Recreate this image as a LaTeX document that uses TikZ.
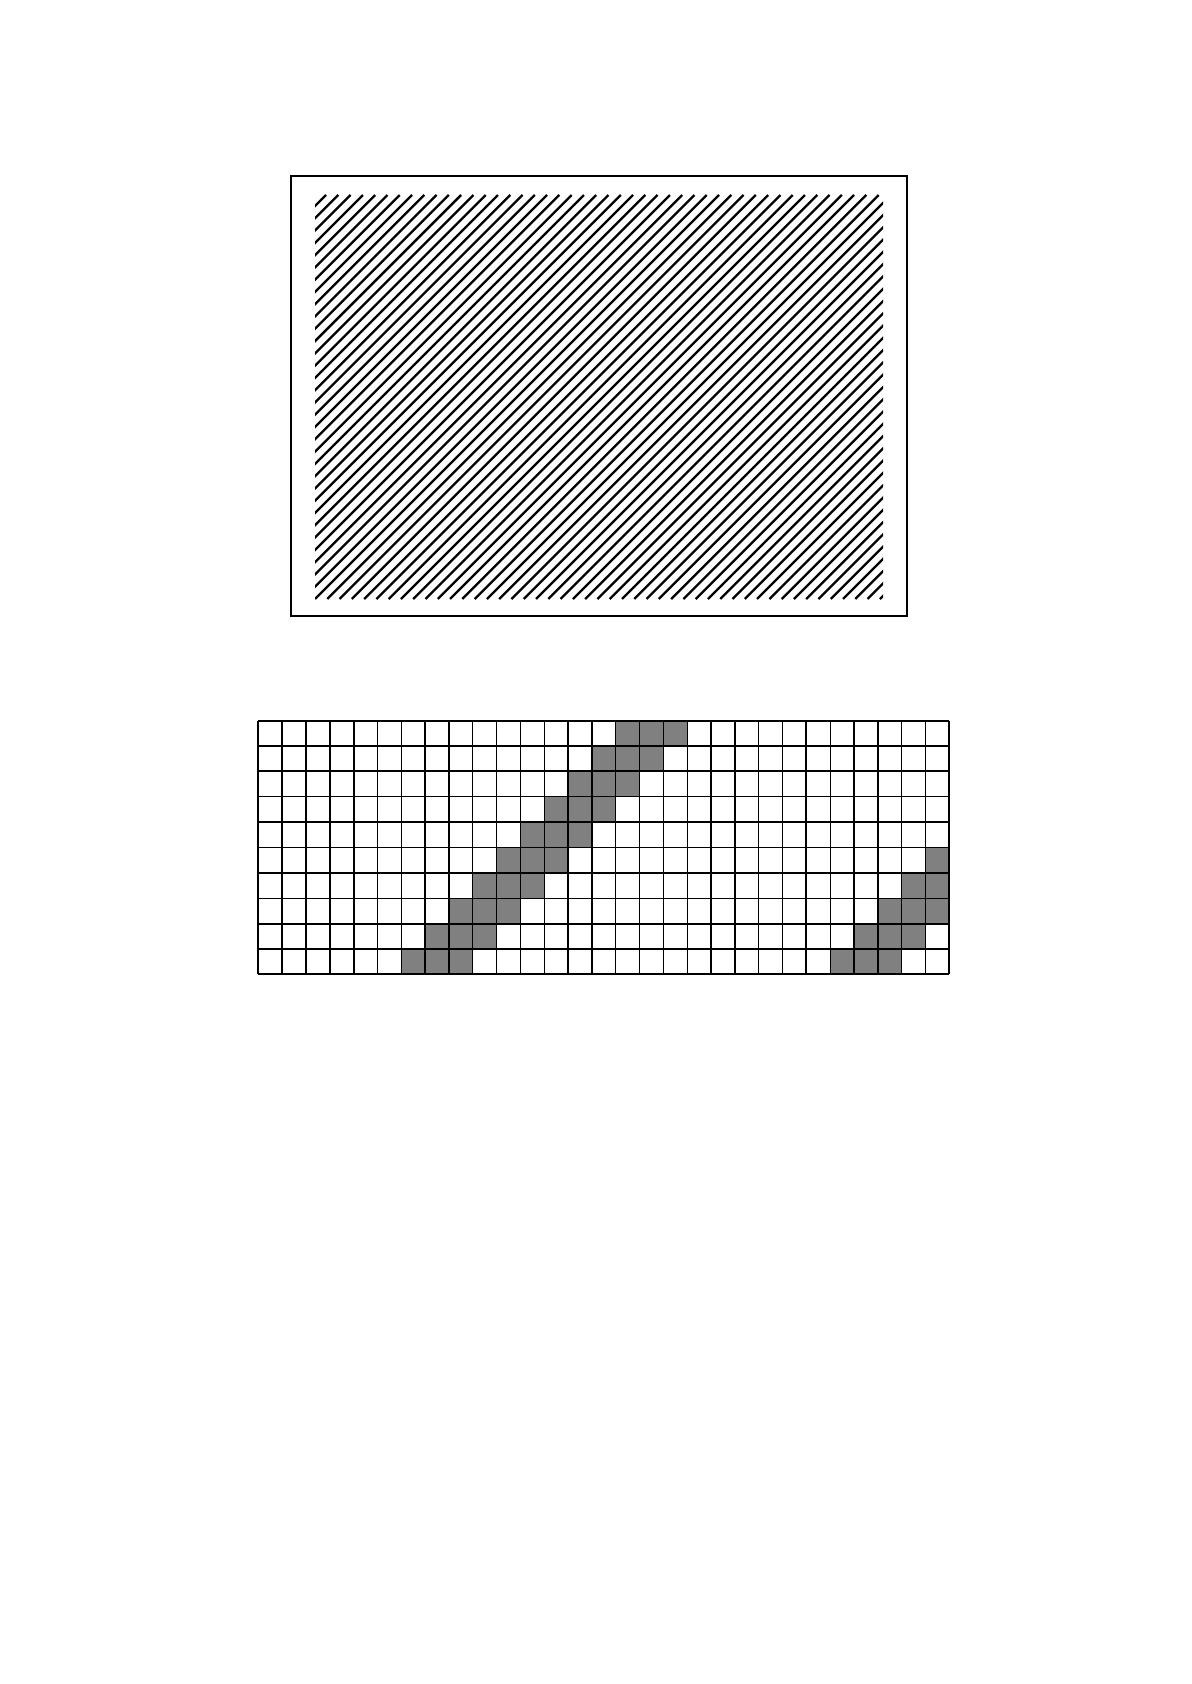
\documentclass[tikz,border=0pt]{standalone}
\usepackage{tikz}
\usetikzlibrary{positioning}

\begin{document}
\begin{tikzpicture}[x=0.5pt, y=-0.5pt,
    hatchline/.style={line width=1.15pt},
    cell/.style={fill=gray},
    gridthin/.style={line width=0.65pt},
    gridthick/.style={line width=1pt}]
    \useasboundingbox (0, 0) rectangle (1191, 1684);
    \node[draw, rectangle, line width=0.8pt, inner sep=0pt, minimum width=308pt, minimum height=220pt] (frame) at (599, 396) {};
    \coordinate (hatchtl) at (315, 195);
    \coordinate (hatchbr) at (883, 599);
    \begin{scope}
        \clip (hatchtl) rectangle (hatchbr);
        \foreach \k in {-34, ..., 47} \draw[hatchline] ({315 + \k*12.28}, 599) -- ++ (404, -404);
    \end{scope}
    \coordinate (gridtl) at (258.3, 720.7);
    \coordinate (gridbr) at (949.1, 974.3);
    \begin{scope}
        \clip (gridtl) rectangle (gridbr);
        \foreach \j in {0, ..., 9} \foreach \d in {0, 1, 2} {
            \fill[cell] ({258.3 + (15 - \j + \d)*23.83}, {720.7 + \j*25.36}) rectangle ++ (23.83, 25.36);
            \fill[cell] ({258.3 + (33 - \j + \d)*23.83}, {720.7 + \j*25.36}) rectangle ++ (23.83, 25.36);
        }
    \end{scope}
    \foreach \i in {0, ..., 29} \draw[gridthin] ({258.3 + \i*23.83}, 720.7) -- ({258.3 + \i*23.83}, 974.3);
    \foreach \j in {0, ..., 10} \draw[gridthin] (258.3, {720.7 + \j*25.36}) -- (949.1, {720.7 + \j*25.36});
    \foreach \i in {0, 3, 4, 8, 14, 19, 23, 25, 29} \draw[gridthick] ({258.3 + \i*23.83}, 720.7) -- ({258.3 + \i*23.83}, 974.3);
    \foreach \j in {0, 2, 4, 6, 8, 10} \draw[gridthick] (258.3, {720.7 + \j*25.36}) -- (949.1, {720.7 + \j*25.36});
\end{tikzpicture}
\end{document}
